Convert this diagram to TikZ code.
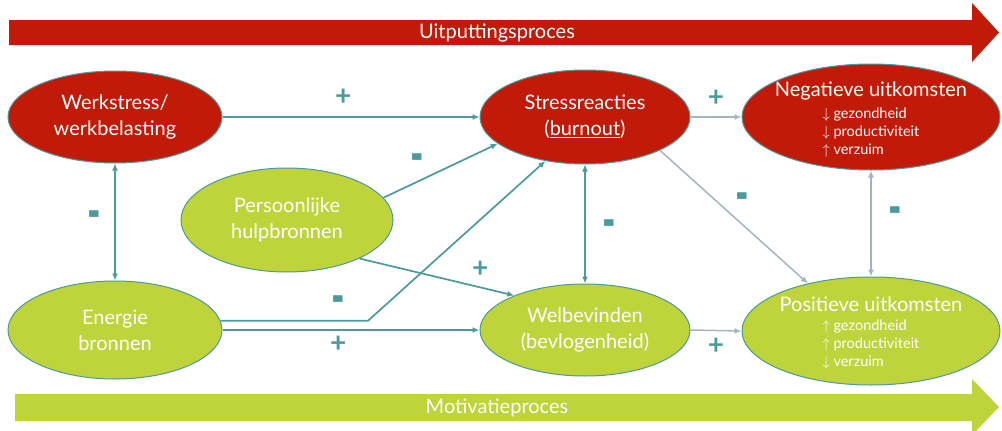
\documentclass[tikz,border=0pt]{standalone}
\usepackage{fontspec}
\setmainfont{Lato}
\usepackage{tikz}
\usetikzlibrary{positioning,calc,arrows.meta,shapes.geometric}
\definecolor{rood}{HTML}{C21A08}
\definecolor{groen}{HTML}{BFD43A}
\definecolor{blauwgroen}{HTML}{4B9A9D}
\definecolor{grijs}{HTML}{A2B6BC}
\tikzstyle{ellips} = [ellipse, draw=blauwgroen, line width=1pt]
\tikzstyle{rood ellips} = [ellips, fill=rood]
\tikzstyle{groen ellips} = [ellips, fill=groen]
\tikzstyle{tekst} = [text=white, align=center, font=\fontsize{20}{26}\selectfont]
\tikzstyle{pijl} = [draw=blauwgroen, line width=1.7pt, -{Latex[length=7pt,width=6pt]}]
\tikzstyle{dubbele pijl} = [pijl, {Latex[length=7pt,width=6pt]}-{Latex[length=7pt,width=6pt]}]
\tikzstyle{grijze pijl} = [draw=grijs, line width=1.5pt, -{Latex[length=7pt,width=6pt]}]
\tikzstyle{grijze dubbele pijl} = [grijze pijl, {Latex[length=7pt,width=6pt]}-{Latex[length=7pt,width=6pt]}]
\tikzstyle{teken} = [text=blauwgroen, font=\fontsize{28}{28}\selectfont\bfseries, inner sep=1pt]
\newcommand{\kleinelijst}[3]{{\fontsize{14.5}{18}\selectfont\begin{tabular}{@{}l@{}}#1\\#2\\#3\end{tabular}}}
\newcommand{\minteken}{\scalebox{1.3}[2.3]{-}}

\begin{document}
\begin{tikzpicture}[x=1pt,y=-1pt]
           \useasboundingbox[fill=white] (0,0) rectangle (1002,431);
           % procesbalken
           \fill[rood] (9,20) -- (972,20) -- (972,3) -- (999,32.5) -- (972,62) -- (972,45) -- (9,45) -- cycle;
           \node[tekst] (uitputting) at (497,32.5) {Uitputtingsproces};
           \fill[groen] (15,394) -- (972,394) -- (972,379) -- (999,407) -- (972,435) -- (972,421) -- (15,421) -- cycle;
           \node[tekst] (motivatie) at (497,407.5) {Motivatieproces};
           % ellipsen
           \node[rood ellips, minimum width=214pt, minimum height=92pt] (werk) at (115,117) {};
           \node[tekst] at (werk) {Werkstress/\\werkbelasting};
           \node[rood ellips, minimum width=210pt, minimum height=94pt] (stress) at (585,117) {};
           \node[tekst] at (stress) {Stressreacties\\(\underline{burnout})};
           \node[rood ellips, minimum width=258pt, minimum height=106pt] (neg) at (871,117) {};
           \node[tekst] at ([yshift=-4pt]neg.center) {Negatieve uitkomsten\\[5pt]
              \kleinelijst{$\downarrow$ gezondheid}{$\downarrow$ productiviteit}{$\uparrow$ verzuim}};
           \node[groen ellips, minimum width=212pt, minimum height=104pt] (pers) at (287,220) {};
           \node[tekst] at (pers) {Persoonlijke\\hulpbronnen};
           \node[groen ellips, minimum width=214pt, minimum height=98pt] (energie) at (115,330) {};
           \node[tekst] at (energie) {Energie\\bronnen};
           \node[groen ellips, minimum width=210pt, minimum height=92pt] (wel) at (585,330) {};
           \node[tekst] at (wel) {Welbevinden\\(bevlogenheid)};
           \node[groen ellips, minimum width=258pt, minimum height=108pt] (pos) at (871,331) {};
           \node[tekst] at ([yshift=-3pt]pos.center) {Positieve uitkomsten\\[5pt]
              \kleinelijst{$\uparrow$ gezondheid}{$\uparrow$ productiviteit}{$\downarrow$ verzuim}};
           % verbindingen
           \coordinate (knik) at (368,318);
           \draw[pijl] (werk.east) -- node[teken, pos=0.47, above=10pt] {+} (stress.west);
           \draw[dubbele pijl] (werk.south) -- node[teken, left=12pt] {\minteken} (energie.north);
           \draw[pijl] (pers.13) -- node[teken, pos=0.3, above=3pt] {\minteken} (stress.197);
           \draw[pijl] (pers.-28) -- node[teken, pos=0.78, above=8pt] {+} (wel.154);
           \draw[pijl] (energie.5) -- node[teken, pos=0.8, above=0pt] {\minteken} (energie.5 -| knik) -- (stress.228);
           \draw[pijl] (energie.east) -- node[teken, pos=0.45, below=4pt] {+} (wel.west);
           \draw[dubbele pijl] (stress.south) -- node[teken, pos=0.56, right=16pt] {\minteken} (wel.north);
           \draw[grijze pijl] (stress.east) -- node[teken, above=9pt] {+} (neg.west);
           \draw[grijze pijl] (stress.-24) -- node[teken, pos=0.5, above right=0pt] {\minteken} (pos.143);
           \draw[grijze dubbele pijl] (neg.south) -- node[teken, pos=0.45, right=16pt] {\minteken} (pos.north);
           \draw[grijze pijl] (wel.east) -- node[teken, below=6pt] {+} (pos.west);
        \end{tikzpicture}
\end{document}
